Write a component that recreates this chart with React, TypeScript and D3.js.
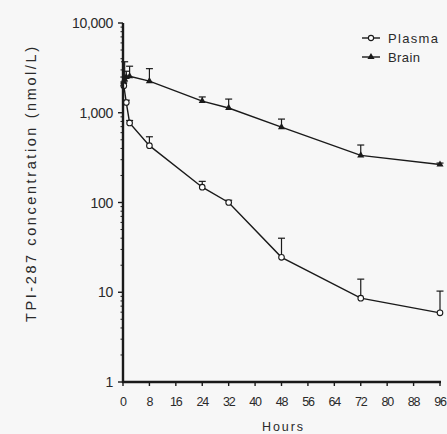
import React from "react";
import * as d3 from "d3";

const plasmaHours = [0.25, 1, 2, 8, 24, 32, 48, 72, 96];
const plasmaValues = [2000, 1300, 770, 430, 148, 100, 24.5, 8.6, 5.9];
const plasmaErrTop = [2200, 1380, 820, 540, 172, 106, 40, 14, 10.3];

const brainHours = [0.25, 0.5, 1, 2, 8, 24, 32, 48, 72, 96];
const brainValues = [2200, 2350, 2500, 2550, 2250, 1350, 1130, 690, 335, 265];
const brainErrTop = [2500, 3700, 2900, 3300, 3100, 1500, 1420, 850, 437, 275];

const xTicks = [0, 8, 16, 24, 32, 40, 48, 56, 64, 72, 80, 88, 96];
const yTicks = [1, 10, 100, 1000, 10000];
const legendLabels = ["Plasma", "Brain"];

const W = 447;
const H = 434;
const left = 123;
const right = 440;
const top = 23;
const bottom = 382;

export default function App() {
  const x = d3.scaleLinear().domain([0, 96]).range([left, right]);
  const y = d3.scaleLog().domain([1, 10000]).range([bottom, top]);
  const line = d3
    .line<[number, number]>()
    .x((d) => x(d[0]))
    .y((d) => y(d[1]));
  const fmt = d3.format(",");
  const minor: number[] = [];
  for (let e = 0; e < 4; e++) {
    for (let m = 2; m <= 9; m++) minor.push(m * Math.pow(10, e));
  }
  const ink = "#1a1a1a";
  const txt = "#2a2a2a";
  const font = "'Liberation Sans', Arial, sans-serif";
  const tri = d3.symbol().type(d3.symbolTriangle).size(22)();

  const plasmaPts = plasmaHours.map((h, i) => [h, plasmaValues[i]] as [number, number]);
  const brainPts = brainHours.map((h, i) => [h, brainValues[i]] as [number, number]);

  return (
    <svg
      width={W}
      height={H}
      style={{ position: "absolute", left: 0, top: 0, background: "#f7f7f7" }}
      fontFamily={font}
    >
      <rect x={0} y={0} width={W} height={H} fill="#f7f7f7" />
      {/* error bars */}
      {brainHours.map((h, i) => (
        <g key={"be" + i} stroke={ink} strokeWidth={1.2}>
          <line x1={x(h)} x2={x(h)} y1={y(brainValues[i])} y2={y(brainErrTop[i])} />
          <line x1={x(h) - 3.5} x2={x(h) + 3.5} y1={y(brainErrTop[i])} y2={y(brainErrTop[i])} />
        </g>
      ))}
      {plasmaHours.map((h, i) => (
        <g key={"pe" + i} stroke={ink} strokeWidth={1.2}>
          <line x1={x(h)} x2={x(h)} y1={y(plasmaValues[i])} y2={y(plasmaErrTop[i])} />
          <line x1={x(h) - 3.5} x2={x(h) + 3.5} y1={y(plasmaErrTop[i])} y2={y(plasmaErrTop[i])} />
        </g>
      ))}
      {/* lines */}
      <path d={line(brainPts) || ""} fill="none" stroke={ink} strokeWidth={1.4} />
      <path d={line(plasmaPts) || ""} fill="none" stroke={ink} strokeWidth={1.4} />
      {/* markers */}
      {brainPts.map((p, i) => (
        <path key={"bm" + i} d={tri || ""} transform={`translate(${x(p[0])},${y(p[1])})`} fill={ink} />
      ))}
      {plasmaPts.map((p, i) => (
        <circle key={"pm" + i} cx={x(p[0])} cy={y(p[1])} r={2.8} fill="#fff" stroke={ink} strokeWidth={1.1} />
      ))}
      {/* axes */}
      <line x1={left} x2={left} y1={top} y2={bottom + 1} stroke={ink} strokeWidth={2.4} />
      <line x1={left - 1} x2={right + 1} y1={bottom} y2={bottom} stroke={ink} strokeWidth={2.4} />
      {yTicks.map((t) => (
        <g key={"yt" + t}>
          <line x1={left - 5} x2={left} y1={y(t)} y2={y(t)} stroke={ink} strokeWidth={1.4} />
          <text x={left - 10} y={y(t)} dy="0.36em" textAnchor="end" fontSize={14} fill={txt} letterSpacing={-0.3}>
            {fmt(t)}
          </text>
        </g>
      ))}
      {minor.map((t) => (
        <line key={"ym" + t} x1={left - 2.5} x2={left} y1={y(t)} y2={y(t)} stroke={ink} strokeWidth={1} />
      ))}
      {xTicks.map((t) => (
        <g key={"xt" + t}>
          <line x1={x(t)} x2={x(t)} y1={bottom} y2={bottom + 4} stroke={ink} strokeWidth={1.4} />
          <text x={x(t)} y={bottom + 24} textAnchor="middle" fontSize={12.5} fill={txt} letterSpacing={-1.2}>
            {t}
          </text>
        </g>
      ))}
      <text x={x(48) + 1} y={431} textAnchor="middle" fontSize={12.5} fill={txt} textLength={41} lengthAdjust="spacing">
        Hours
      </text>
      <text
        transform={`translate(35.5,184.5) rotate(-90)`}
        textAnchor="middle"
        fontSize={14.5}
        fill={txt}
        textLength={275}
        lengthAdjust="spacing"
      >
        TPI-287 concentration (nmol/L)
      </text>
      {/* legend */}
      {legendLabels.map((lab, i) => {
        const ly = 38 + i * 19;
        return (
          <g key={"lg" + i}>
            <line x1={362} x2={380} y1={ly} y2={ly} stroke={ink} strokeWidth={1.4} />
            {i === 0 ? (
              <circle cx={371} cy={ly} r={2.6} fill="#fff" stroke={ink} strokeWidth={1.1} />
            ) : (
              <path d={tri || ""} transform={`translate(371,${ly})`} fill={ink} />
            )}
            <text
              x={388}
              y={ly}
              dy="0.36em"
              fontSize={13}
              fill={txt}
              textLength={i === 0 ? 50 : 32}
              lengthAdjust="spacing"
            >
              {lab}
            </text>
          </g>
        );
      })}
    </svg>
  );
}
